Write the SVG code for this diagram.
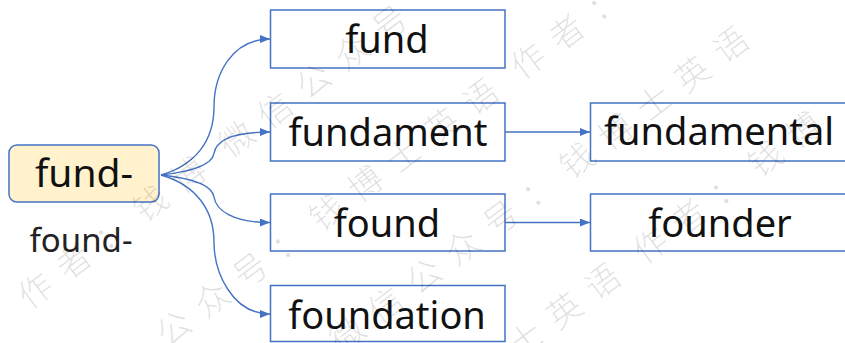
<svg xmlns="http://www.w3.org/2000/svg" width="845" height="343" viewBox="0 0 845 343">
  <defs>
    <style>
      .box { fill: #ffffff; stroke: #4472C4; stroke-width: 1.5; }
      .root { fill: #FFF2CC; stroke: #4472C4; stroke-width: 1.5; }
      .lbl { font-family: "Noto Sans", "Open Sans", sans-serif; font-size: 38px; fill: #111111; text-anchor: middle; }
      .conn { fill: none; stroke: #4472C4; stroke-width: 1.4; marker-end: url(#arr); }
      .wm { font-family: "Noto Sans CJK SC", "Noto Sans CJK JP", sans-serif; font-size: 34px; font-weight: 300; letter-spacing: 14px; fill: #000000; fill-opacity: 0.12; }
    </style>
    <marker id="arr" viewBox="0 0 10 8" refX="10" refY="4" markerWidth="10" markerHeight="8" markerUnits="userSpaceOnUse" orient="auto">
      <path d="M0,0 L10,4 L0,8 z" fill="#4472C4"/>
    </marker>
  </defs>
  <rect width="845" height="343" fill="#ffffff"/>

  <g id="connectors">
    <path class="conn" d="M161,175 C196,165 214,140 214,107 C214,74 232,39 270,39"/>
    <path class="conn" d="M161,175 C190,172 212,165 214,153.5 C216,140 232,132 270,132"/>
    <path class="conn" d="M161,175 C190,178 212,185 214,197 C216,210 232,222.5 270,222.5"/>
    <path class="conn" d="M161,175 C196,185 214,210 214,242 C214,272 232,314 270,314"/>
    <path class="conn" d="M505,132 L590,132"/>
    <path class="conn" d="M505,222.5 L590,222.5"/>
  </g>

  <g id="root">
    <rect class="root" x="9" y="145" width="150" height="57" rx="8"/>
    <text class="lbl" x="84" y="187" style="font-size:39px">fund-</text>
  </g>
  <g id="found-label">
    <text class="lbl" x="81" y="252" style="font-size:33px;fill:#222">found-</text>
  </g>

  <g id="n-fund">
    <rect class="box" x="270.5" y="10" width="234.5" height="58"/>
    <text class="lbl" x="387" y="53">fund</text>
  </g>
  <g id="n-fundament">
    <rect class="box" x="270.5" y="103" width="234.5" height="58"/>
    <text class="lbl" x="388" y="146">fundament</text>
  </g>
  <g id="n-found">
    <rect class="box" x="270.5" y="194" width="234.5" height="57"/>
    <text class="lbl" x="387" y="237">found</text>
  </g>
  <g id="n-foundation">
    <rect class="box" x="270.5" y="285.5" width="234.5" height="56"/>
    <text class="lbl" x="387" y="329">foundation</text>
  </g>
  <g id="n-fundamental">
    <rect class="box" x="590.5" y="103" width="270" height="58"/>
    <text class="lbl" x="719" y="145">fundamental</text>
  </g>
  <g id="n-founder">
    <rect class="box" x="590.5" y="194" width="270" height="57"/>
    <text class="lbl" x="720" y="237">founder</text>
  </g>

  <g id="watermark">
    <text class="wm" transform="translate(29.2,310.5) rotate(-37)">作者：钱博<tspan dx="12">微信公众号</tspan></text>
    <text class="wm" transform="translate(167.5,348.3) rotate(-37)">公众号：钱博士英语<tspan dx="12">作者：钱</tspan></text>
    <text class="wm" transform="translate(341.1,353.9) rotate(-37)">微信公众号：钱博士英语</text>
    <text class="wm" transform="translate(519.6,359.4) rotate(-37)">士英语<tspan dx="12">作者：钱博</tspan></text>
  </g>
</svg>
